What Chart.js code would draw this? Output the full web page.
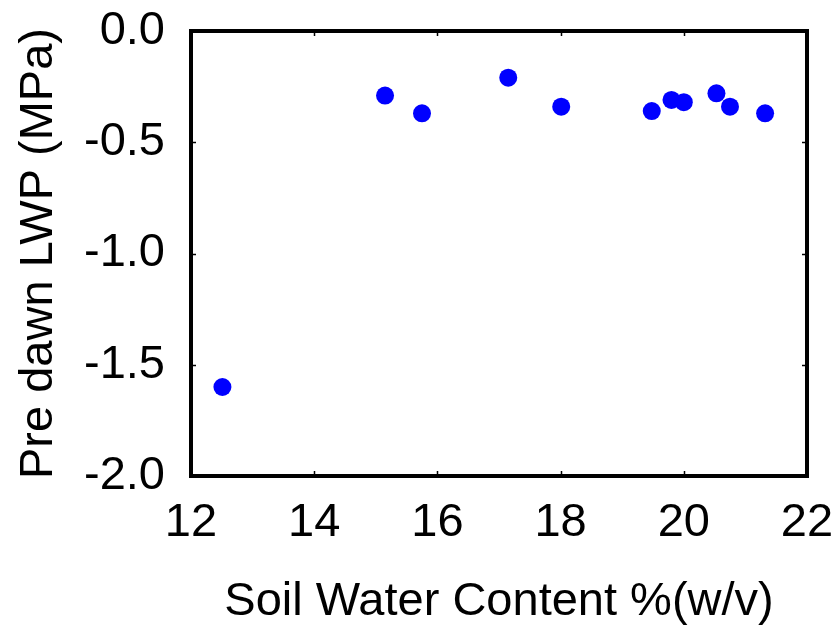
<!DOCTYPE html>
<html>
<head>
<meta charset="utf-8">
<script src="https://cdn.jsdelivr.net/npm/chart.js@4.4.0/dist/chart.umd.min.js"></script>
<style>
  html, body { margin: 0; padding: 0; background: #fff; }
  #wrap { width: 839px; height: 630px; }
</style>
</head>
<body>
<div id="wrap"><canvas id="chart" width="839" height="630"></canvas></div>
<script>
// soil water content (% w/v) and pre dawn leaf water potential (MPa)
const soilWater = [12.51, 15.15, 15.75, 17.15, 18.01, 19.48, 19.80, 20.00, 20.53, 20.75, 21.32];
const predawnLWP = [-1.60, -0.29, -0.37, -0.21, -0.34, -0.36, -0.31, -0.32, -0.28, -0.34, -0.37];

const xTicks = [12, 14, 16, 18, 20, 22];
const yTicks = [-2.0, -1.5, -1.0, -0.5, 0.0];

const points = soilWater.map((x, i) => ({ x: x, y: predawnLWP[i] }));

// box round the plot with small inward ticks on all four sides
const framePlugin = {
  id: 'frame',
  afterDraw(chart) {
    const ctx = chart.ctx;
    const a = chart.chartArea;
    const xs = chart.scales.x, ys = chart.scales.y;
    ctx.save();
    ctx.strokeStyle = '#000';
    ctx.lineWidth = 1.5;
    const t = 5;
    xTicks.forEach(v => {
      const px = Math.round(xs.getPixelForValue(v)) + 0.5;
      ctx.beginPath();
      ctx.moveTo(px, a.bottom); ctx.lineTo(px, a.bottom - t);
      ctx.moveTo(px, a.top); ctx.lineTo(px, a.top + t);
      ctx.stroke();
    });
    yTicks.forEach(v => {
      const py = Math.round(ys.getPixelForValue(v)) + 0.5;
      ctx.beginPath();
      ctx.moveTo(a.left, py); ctx.lineTo(a.left + t, py);
      ctx.moveTo(a.right, py); ctx.lineTo(a.right - t, py);
      ctx.stroke();
    });
    ctx.lineWidth = 4;
    ctx.strokeRect(a.left, a.top, a.right - a.left, a.bottom - a.top);
    ctx.restore();
  }
};

const font = { family: '"Liberation Sans", Arial, sans-serif', size: 47 };

new Chart(document.getElementById('chart'), {
  type: 'scatter',
  data: {
    datasets: [{
      data: points,
      backgroundColor: '#0000ff',
      borderColor: '#0000ff',
      pointRadius: 9,
      pointHoverRadius: 9,
      borderWidth: 0
    }]
  },
  options: {
    responsive: false,
    animation: false,
    layout: { padding: { top: 31, right: 32, left: 0, bottom: 0 } },
    plugins: {
      legend: { display: false },
      tooltip: { enabled: false }
    },
    scales: {
      x: {
        type: 'linear',
        min: 12, max: 22,
        afterBuildTicks: s => { s.ticks = xTicks.map(v => ({ value: v })); },
        afterFit: s => { s.height = 154; s.paddingLeft = 0; s.paddingRight = 0; },
        grid: { display: false, drawTicks: false },
        border: { display: false },
        ticks: { color: '#000', font: font, padding: 19, maxRotation: 0, autoSkip: false, callback: v => String(v) },
        title: {
          display: true, text: 'Soil Water Content %(w/v)',
          color: '#000', font: font, padding: { top: 0, bottom: 0 }
        }
      },
      y: {
        type: 'linear',
        min: -2, max: 0,
        afterBuildTicks: s => { s.ticks = yTicks.map(v => ({ value: v })); },
        afterFit: s => { s.width = 191; s.paddingTop = 0; s.paddingBottom = 0; },
        grid: { display: false, drawTicks: false },
        border: { display: false },
        ticks: { color: '#000', font: font, padding: 26, autoSkip: false, callback: v => v.toFixed(1) },
        title: {
          display: true, text: 'Pre dawn LWP (MPa)',
          color: '#000', font: font, padding: { top: 11, bottom: 0 }
        }
      }
    }
  },
  plugins: [framePlugin]
});
</script>
</body>
</html>
